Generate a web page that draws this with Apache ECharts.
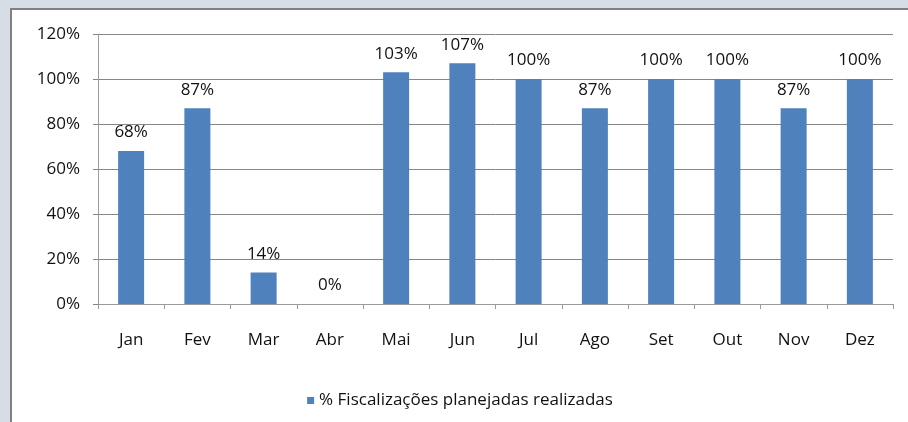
<!DOCTYPE html>
<html>
  <head>
    <meta charset="utf-8" />
    <title>ECharts</title>
    <script src="https://cdn.jsdelivr.net/npm/echarts@6/dist/echarts.min.js"></script>
    <style>
      html, body { margin: 0; padding: 0; background: #d6dde6; overflow: hidden; }
      #frame {
        position: absolute; left: 10px; top: 8px; width: 900px; height: 420px;
        border-left: 2px solid #808080; border-top: 2px solid #808080; background: #fff;
      }
      #stat1 { width: 896px; height: 412px; }
    </style>
  </head>
  <body>
    <div id="frame"><div id="stat1"></div></div>
    <script type="text/javascript">
      var meses = ["Jan", "Fev", "Mar", "Abr", "Mai", "Jun", "Jul", "Ago", "Set", "Out", "Nov", "Dez"];
      var realizadas = [68, 87, 14, 0, 103, 107, 100, 87, 100, 100, 87, 100];
      var yTicks = [0, 20, 40, 60, 80, 100, 120];

      var fonte = '"Open Sans", "Noto Sans", sans-serif';
      var EChart1 = echarts.init(document.getElementById("stat1"));
      var option = {
        animation: false,
        textStyle: { fontFamily: fonte },
        grid: { left: 86, top: 24, width: 795, height: 270 },
        legend: {
          data: ["% Fiscalizações planejadas realizadas"],
          top: 377,
          left: "center",
          icon: "rect",
          itemWidth: 7,
          itemHeight: 7,
          textStyle: { fontFamily: fonte, fontSize: 17, color: "#111" },
        },
        xAxis: {
          type: "category",
          data: meses,
          axisLine: { lineStyle: { color: "#9a9a9a", width: 1 } },
          axisTick: { show: true, length: 5, lineStyle: { color: "#9a9a9a" } },
          axisLabel: { fontFamily: fonte, fontSize: 17, color: "#111", margin: 28 },
        },
        yAxis: {
          type: "value",
          min: yTicks[0],
          max: yTicks[yTicks.length - 1],
          interval: 20,
          axisLine: { show: true, lineStyle: { color: "#9a9a9a" } },
          axisTick: { show: true, length: 5, lineStyle: { color: "#868686" } },
          splitLine: { lineStyle: { color: "#868686", width: 1 } },
          axisLabel: { fontFamily: fonte, fontSize: 17, color: "#111", margin: 18, formatter: "{value}%" },
        },
        series: [
          {
            name: "% Fiscalizações planejadas realizadas",
            type: "bar",
            data: realizadas,
            barWidth: 26,
            itemStyle: { color: "#4f81bd" },
            label: {
              show: true,
              position: "top",
              distance: 10,
              formatter: "{c}%",
              fontFamily: fonte,
              fontSize: 17,
              color: "#111",
            },
          },
        ],
      };
      EChart1.setOption(option);
    </script>
  </body>
</html>
